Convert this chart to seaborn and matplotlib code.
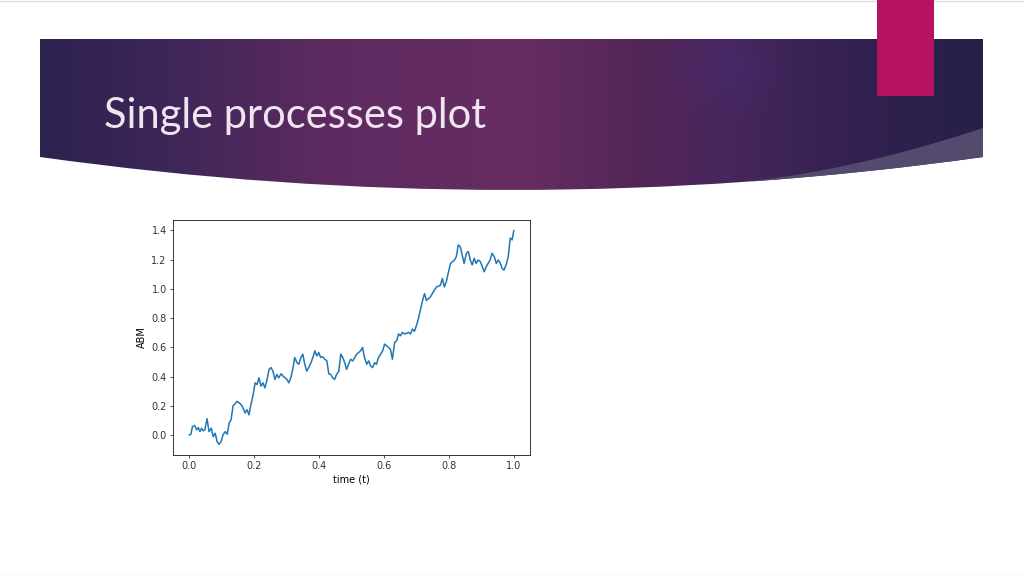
import numpy as np
import pandas as pd
import matplotlib
matplotlib.use("Agg")
import matplotlib.pyplot as plt
from matplotlib.path import Path
from matplotlib.patches import PathPatch, Polygon, Rectangle
import seaborn as sns

# traced arithmetic brownian motion path
t = [0.000, 0.005, 0.010, 0.017, 0.023, 0.028, 0.033, 0.038, 0.043, 0.048,
     0.055, 0.061, 0.068, 0.074, 0.080, 0.086, 0.092, 0.098, 0.104, 0.111,
     0.117, 0.123, 0.129, 0.135, 0.141, 0.147, 0.154, 0.160, 0.166, 0.172,
     0.178, 0.184, 0.190, 0.197, 0.203, 0.209, 0.215, 0.221, 0.227, 0.233,
     0.240, 0.246, 0.252, 0.258, 0.264, 0.270, 0.276, 0.283, 0.289, 0.295,
     0.301, 0.307, 0.313, 0.319, 0.325, 0.332, 0.338, 0.344, 0.350, 0.356,
     0.362, 0.368, 0.375, 0.381, 0.387, 0.393, 0.399, 0.405, 0.411, 0.418,
     0.424, 0.430, 0.436, 0.442, 0.448, 0.454, 0.461, 0.467, 0.473, 0.479,
     0.485, 0.491, 0.497, 0.504, 0.510, 0.516, 0.522, 0.528, 0.534, 0.540,
     0.547, 0.553, 0.559, 0.565, 0.571, 0.577, 0.583, 0.590, 0.596, 0.602,
     0.608, 0.614, 0.620, 0.626, 0.633, 0.639, 0.645, 0.651, 0.657, 0.663,
     0.669, 0.676, 0.682, 0.688, 0.694, 0.700, 0.706, 0.712, 0.719, 0.725,
     0.731, 0.737, 0.743, 0.749, 0.755, 0.762, 0.768, 0.774, 0.780, 0.786,
     0.792, 0.798, 0.805, 0.811, 0.817, 0.823, 0.829, 0.835, 0.841, 0.847,
     0.854, 0.860, 0.866, 0.872, 0.878, 0.884, 0.890, 0.897, 0.903, 0.909,
     0.915, 0.921, 0.927, 0.933, 0.940, 0.946, 0.952, 0.958, 0.964, 0.970,
     0.976, 0.983, 0.989, 0.995, 1.000]
abm = [0.000, 0.005, 0.058, 0.064, 0.035, 0.051, 0.023, 0.046, 0.028, 0.035,
       0.111, 0.023, 0.046, -0.012, 0.012, -0.046, -0.064, -0.046, 0.000, 0.023,
       0.005, 0.081, 0.104, 0.200, 0.212, 0.230, 0.219, 0.207, 0.184, 0.150,
       0.173, 0.138, 0.207, 0.276, 0.357, 0.345, 0.391, 0.334, 0.357, 0.322,
       0.380, 0.449, 0.461, 0.437, 0.380, 0.414, 0.391, 0.419, 0.403, 0.391,
       0.380, 0.357, 0.391, 0.449, 0.530, 0.495, 0.484, 0.530, 0.553, 0.484,
       0.437, 0.461, 0.495, 0.530, 0.576, 0.541, 0.564, 0.530, 0.536, 0.518,
       0.507, 0.419, 0.414, 0.391, 0.380, 0.414, 0.437, 0.553, 0.530, 0.495,
       0.449, 0.484, 0.518, 0.507, 0.530, 0.553, 0.564, 0.576, 0.599, 0.530,
       0.484, 0.507, 0.472, 0.461, 0.495, 0.484, 0.530, 0.553, 0.576, 0.622,
       0.610, 0.599, 0.587, 0.518, 0.633, 0.645, 0.691, 0.679, 0.702, 0.691,
       0.695, 0.702, 0.691, 0.725, 0.709, 0.748, 0.794, 0.852, 0.921, 0.967,
       0.921, 0.933, 0.944, 0.967, 0.990, 1.013, 1.018, 1.025, 1.071, 1.013,
       1.048, 1.105, 1.174, 1.186, 1.197, 1.220, 1.301, 1.289, 1.232, 1.174,
       1.243, 1.255, 1.197, 1.163, 1.209, 1.174, 1.197, 1.186, 1.151, 1.117,
       1.151, 1.174, 1.197, 1.243, 1.220, 1.174, 1.197, 1.179, 1.140, 1.128,
       1.163, 1.220, 1.347, 1.335, 1.398]

title = "Single processes plot"

df = pd.DataFrame({"t": t, "abm": abm})

fig = plt.figure(figsize=(10.24, 5.76), dpi=100)
fig.patch.set_facecolor("white")

# slide background in pixel coordinates
bg = fig.add_axes([0, 0, 1, 1])
bg.set_xlim(0, 1024)
bg.set_ylim(576, 0)
bg.axis("off")

banner = Path(
    [(40, 39), (983, 39), (983, 157), (511, 223), (40, 157), (40, 39)],
    [Path.MOVETO, Path.LINETO, Path.LINETO, Path.CURVE3, Path.CURVE3, Path.CLOSEPOLY],
)
patch = PathPatch(banner, facecolor="none", edgecolor="none")
bg.add_patch(patch)

# horizontal colour gradient of the header
xs = np.arange(40, 984)
ys = np.arange(39, 226)
stops = [40, 160, 330, 520, 640, 730, 860, 983]
cols = np.array([
    [44, 34, 78], [60, 38, 88], [94, 43, 96], [102, 45, 98],
    [84, 38, 88], [70, 38, 92], [50, 33, 80], [38, 32, 72],
]) / 255
img = np.zeros((len(ys), len(xs), 3))
for c in range(3):
    img[:, :, c] = np.interp(xs, stops, cols[:, c])[None, :]
X, Y = np.meshgrid(xs, ys)
glow = np.exp(-(((X - 725) / 45) ** 2 + ((Y - 65) / 40) ** 2))
img += glow[:, :, None] * np.array([0.0, 0.01, 0.04])
img = np.clip(img, 0, 1)
im = bg.imshow(img, extent=[40, 984, 226, 39], aspect="auto", zorder=1)
im.set_clip_path(patch)

# lighter wedge at bottom right
tt = np.linspace(0, 0.244, 30)
low_x = (1 - tt) ** 2 * 983 + 2 * tt * (1 - tt) * 511 + tt ** 2 * 40
low_y = (1 - tt) ** 2 * 157 + 2 * tt * (1 - tt) * 223 + tt ** 2 * 157
uu = np.linspace(0, 1, 30)
up_x = (1 - uu) ** 2 * 753 + 2 * uu * (1 - uu) * 862 + uu ** 2 * 983
up_y = (1 - uu) ** 2 * 181 + 2 * uu * (1 - uu) * 168 + uu ** 2 * 128
wedge = np.column_stack([np.concatenate([up_x, low_x]), np.concatenate([up_y, low_y])])
bg.add_patch(Polygon(wedge, closed=True, facecolor="#544A6E", edgecolor="none", zorder=2))

# pink accent block
bg.add_patch(Rectangle((877, 0), 57, 96, facecolor="#B5135F", edgecolor="none", zorder=3))

bg.axhline(0.5, color="#DDDDDD", lw=1)
bg.axhline(575.5, color="#E4E4E4", lw=1)

bg.text(104, 128, title, fontsize=30, color="#EFE4EF", family=["Lato", "DejaVu Sans"],
        fontweight="normal", va="baseline", ha="left", zorder=4)

# the plot itself
ax = fig.add_axes([173 / 1024, 1 - 455 / 576, 357 / 1024, 235 / 576])
sns.lineplot(data=df, x="t", y="abm", ax=ax, color="#1f77b4", linewidth=1.1)
ax.set_xlabel("time (t)", fontsize=7, labelpad=2)
ax.set_ylabel("ABM", fontsize=7, labelpad=3)
ax.set_xticks([0.0, 0.2, 0.4, 0.6, 0.8, 1.0])
ax.set_yticks([0.0, 0.2, 0.4, 0.6, 0.8, 1.0, 1.2, 1.4])
ax.tick_params(labelsize=7, length=2.5, width=0.6, pad=2, colors="#333333")
for s in ax.spines.values():
    s.set_linewidth(0.7)
    s.set_color("#333333")

fig.savefig("out.png", dpi=100)
